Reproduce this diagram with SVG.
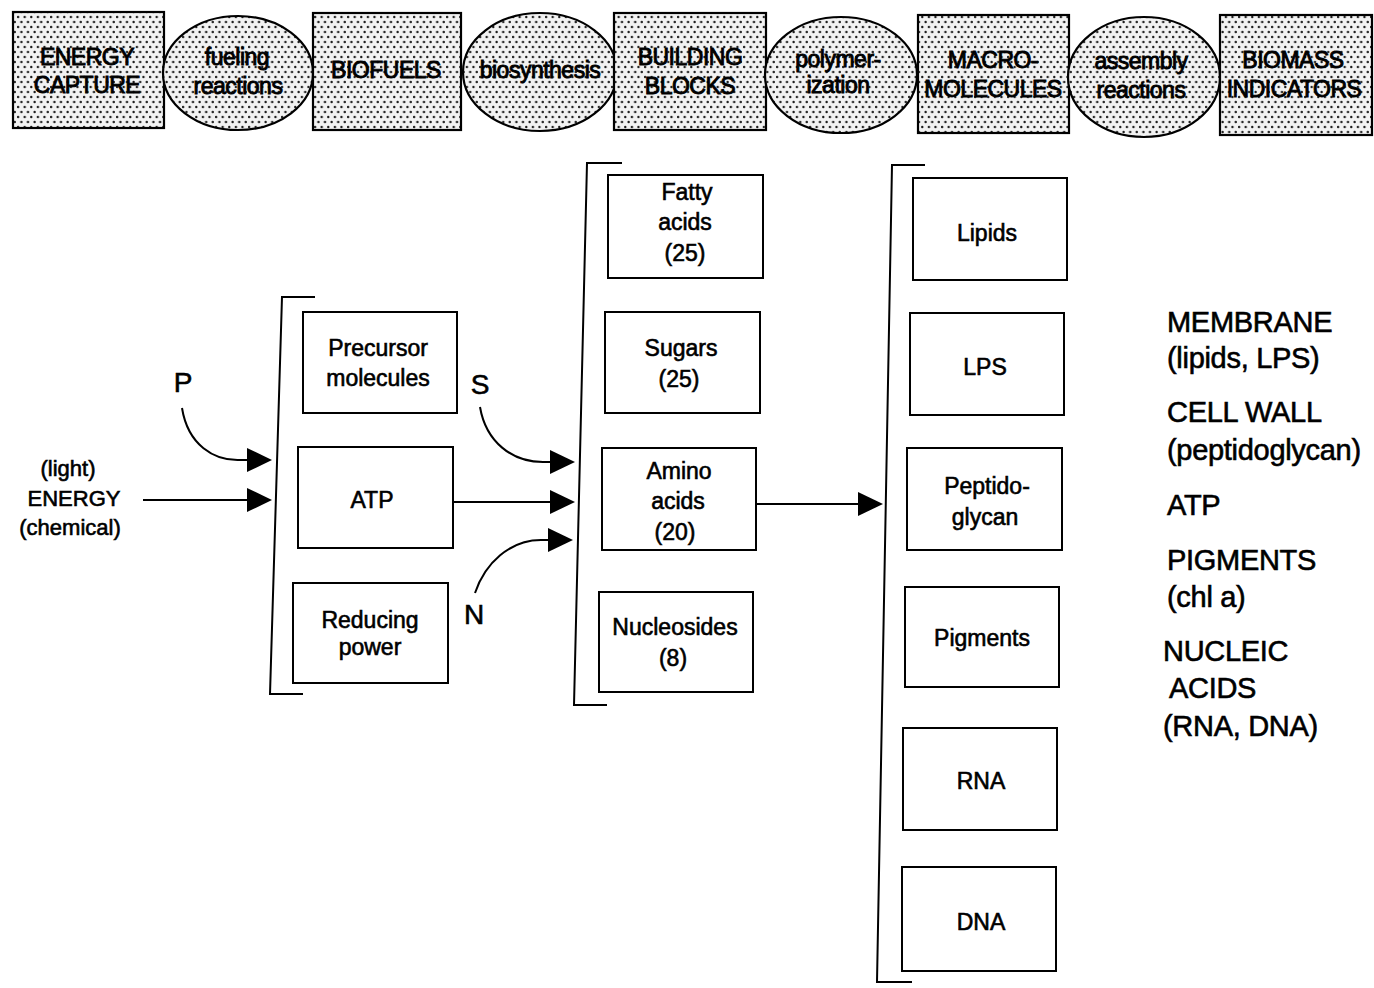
<svg xmlns="http://www.w3.org/2000/svg" width="1374" height="988" viewBox="0 0 1374 988">
<style>
  .bg{fill:#fff}
  .box{fill:#fff;stroke:#000;stroke-width:2}
  .stip{fill:url(#dots);stroke:#000;stroke-width:2.2}
  .t{font-family:"Liberation Sans",Arial,Helvetica,sans-serif;fill:#000;stroke:#000;stroke-width:0.6;text-anchor:middle}
  .top{font-size:23px;letter-spacing:-0.5px;stroke-width:0.9}
  .nd{font-size:23px}
  .lab{font-size:28px}
  .side{font-size:22px}
  .r{font-family:"Liberation Sans",Arial,Helvetica,sans-serif;font-size:29px;fill:#000;stroke:#000;stroke-width:0.6;letter-spacing:-0.3px}
  .br{fill:none;stroke:#000;stroke-width:2}
  .ar{fill:none;stroke:#000;stroke-width:2;marker-end:url(#head)}
</style>
<defs>
  <pattern id="dots" patternUnits="userSpaceOnUse" width="6.6" height="10">
    <rect width="6.6" height="10" fill="#f2f2f2"/>
    <circle cx="1.6" cy="2" r="1.2" fill="#1a1a1a"/>
    <circle cx="4.9" cy="7" r="1.2" fill="#1a1a1a"/>
  </pattern>
  <marker id="head" markerUnits="userSpaceOnUse" markerWidth="26" markerHeight="26" refX="0" refY="12" orient="auto">
    <path d="M0,0 L25,12 L0,24 Z" fill="#000"/>
  </marker>
</defs>
<rect class="bg" x="0" y="0" width="1374" height="988"/>

<!-- Top row -->
<g id="energy-capture">
  <rect class="stip" x="13" y="12" width="151" height="116"/>
  <text class="t top" x="87" y="65">ENERGY</text>
  <text class="t top" x="87" y="93">CAPTURE</text>
</g>
<g id="fueling-reactions">
  <ellipse class="stip" cx="238" cy="73" rx="75" ry="57"/>
  <text class="t top" x="237" y="65">fueling</text>
  <text class="t top" x="238" y="94">reactions</text>
</g>
<g id="biofuels">
  <rect class="stip" x="313" y="13" width="148" height="117"/>
  <text class="t top" x="386" y="78">BIOFUELS</text>
</g>
<g id="biosynthesis">
  <ellipse class="stip" cx="540" cy="72" rx="77" ry="59"/>
  <text class="t top" x="540" y="78">biosynthesis</text>
</g>
<g id="building-blocks">
  <rect class="stip" x="614" y="13" width="152" height="117"/>
  <text class="t top" x="690" y="65">BUILDING</text>
  <text class="t top" x="690" y="94">BLOCKS</text>
</g>
<g id="polymerization">
  <ellipse class="stip" cx="841" cy="75" rx="76" ry="58"/>
  <text class="t top" x="838" y="67">polymer-</text>
  <text class="t top" x="838" y="93">ization</text>
</g>
<g id="macromolecules">
  <rect class="stip" x="918" y="15" width="151" height="118"/>
  <text class="t top" x="993" y="68">MACRO-</text>
  <text class="t top" x="993" y="97">MOLECULES</text>
</g>
<g id="assembly-reactions">
  <ellipse class="stip" cx="1144" cy="77" rx="76" ry="60"/>
  <text class="t top" x="1141" y="69">assembly</text>
  <text class="t top" x="1141" y="98">reactions</text>
</g>
<g id="biomass-indicators">
  <rect class="stip" x="1220" y="15" width="152" height="120"/>
  <text class="t top" x="1293" y="68">BIOMASS</text>
  <text class="t top" x="1294" y="97">INDICATORS</text>
</g>

<!-- Energy input -->
<g id="energy-input">
  <text class="t side" x="68" y="476">(light)</text>
  <text class="t side" x="74" y="506">ENERGY</text>
  <text class="t side" x="70" y="535">(chemical)</text>
</g>
<g id="label-P"><text class="t lab" x="183" y="392">P</text></g>
<g id="label-S"><text class="t lab" x="480" y="394">S</text></g>
<g id="label-N"><text class="t lab" x="474" y="624">N</text></g>

<!-- Column 1 -->
<g id="precursor-molecules">
  <rect class="box" x="303" y="312" width="154" height="101"/>
  <text class="t nd" x="378" y="356">Precursor</text>
  <text class="t nd" x="378" y="386">molecules</text>
</g>
<g id="atp">
  <rect class="box" x="298" y="447" width="155" height="101"/>
  <text class="t nd" x="372" y="508">ATP</text>
</g>
<g id="reducing-power">
  <rect class="box" x="293" y="583" width="155" height="100"/>
  <text class="t nd" x="370" y="628">Reducing</text>
  <text class="t nd" x="370" y="655">power</text>
</g>

<!-- Column 2 -->
<g id="fatty-acids">
  <rect class="box" x="608" y="175" width="155" height="103"/>
  <text class="t nd" x="687" y="200">Fatty</text>
  <text class="t nd" x="685" y="230">acids</text>
  <text class="t nd" x="685" y="261">(25)</text>
</g>
<g id="sugars">
  <rect class="box" x="605" y="312" width="155" height="101"/>
  <text class="t nd" x="681" y="356">Sugars</text>
  <text class="t nd" x="679" y="387">(25)</text>
</g>
<g id="amino-acids">
  <rect class="box" x="602" y="448" width="154" height="102"/>
  <text class="t nd" x="679" y="479">Amino</text>
  <text class="t nd" x="678" y="509">acids</text>
  <text class="t nd" x="675" y="540">(20)</text>
</g>
<g id="nucleosides">
  <rect class="box" x="599" y="592" width="154" height="100"/>
  <text class="t nd" x="675" y="635">Nucleosides</text>
  <text class="t nd" x="673" y="666">(8)</text>
</g>

<!-- Column 3 -->
<g id="lipids">
  <rect class="box" x="913" y="178" width="154" height="102"/>
  <text class="t nd" x="987" y="241">Lipids</text>
</g>
<g id="lps">
  <rect class="box" x="910" y="313" width="154" height="102"/>
  <text class="t nd" x="985" y="375">LPS</text>
</g>
<g id="peptidoglycan">
  <rect class="box" x="907" y="448" width="155" height="102"/>
  <text class="t nd" x="987" y="494">Peptido-</text>
  <text class="t nd" x="985" y="525">glycan</text>
</g>
<g id="pigments">
  <rect class="box" x="905" y="587" width="154" height="100"/>
  <text class="t nd" x="982" y="646">Pigments</text>
</g>
<g id="rna">
  <rect class="box" x="903" y="728" width="154" height="102"/>
  <text class="t nd" x="981" y="789">RNA</text>
</g>
<g id="dna">
  <rect class="box" x="902" y="867" width="154" height="104"/>
  <text class="t nd" x="981" y="930">DNA</text>
</g>

<!-- Biomass indicators list -->
<g id="indicator-list">
  <text class="r" x="1167" y="332">MEMBRANE</text>
  <text class="r" x="1167" y="368">(lipids, LPS)</text>
  <text class="r" x="1167" y="422">CELL WALL</text>
  <text class="r" x="1167" y="460">(peptidoglycan)</text>
  <text class="r" x="1167" y="515">ATP</text>
  <text class="r" x="1167" y="570">PIGMENTS</text>
  <text class="r" x="1167" y="607">(chl a)</text>
  <text class="r" x="1163" y="661">NUCLEIC</text>
  <text class="r" x="1169" y="698">ACIDS</text>
  <text class="r" x="1163" y="736">(RNA, DNA)</text>
</g>

<!-- Connectors -->
<g id="connectors">
  <path class="br" d="M315,297 L282,297 L270,694 L303,694"/>
  <path class="br" d="M622,163 L587,163 L574,705 L607,705"/>
  <path class="br" d="M925,165 L892,165 L877,982 L912,982"/>
  <path class="ar" d="M182,408 C188,445 214,461 240,460 L247,460"/>
  <path class="ar" d="M143,500 L247,500"/>
  <path class="ar" d="M480,407 C486,442 512,462 543,462 L550,462"/>
  <path class="ar" d="M453,502 L550,502"/>
  <path class="ar" d="M475,593 C485,563 510,540 541,540 L548,540"/>
  <path class="ar" d="M756,504 L858,504"/>
</g>
</svg>
